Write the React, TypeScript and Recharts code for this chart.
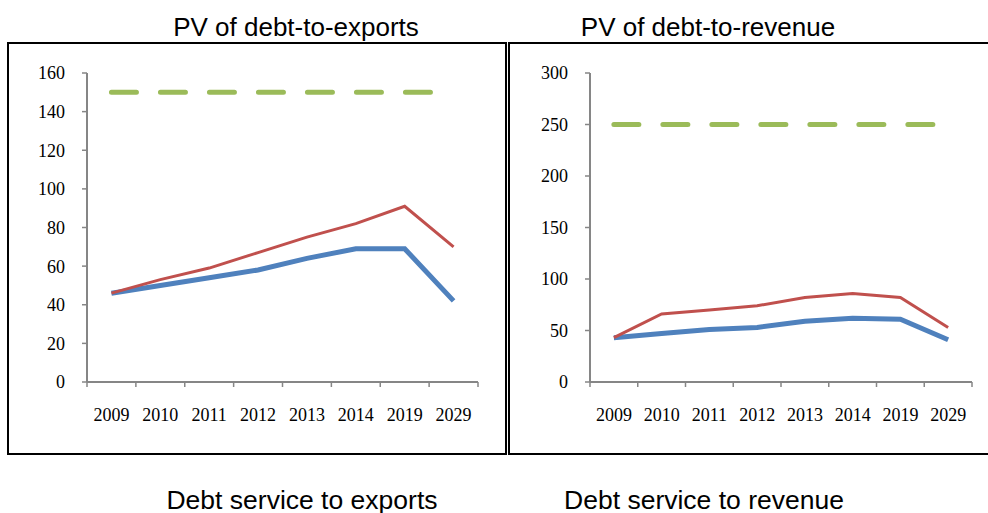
import React from 'react';
import { LineChart, Line, XAxis, YAxis } from 'recharts';

const years = ['2009', '2010', '2011', '2012', '2013', '2014', '2019', '2029'];

// PV of debt-to-exports
const exportsBaseline = [46, 50, 54, 58, 64, 69, 69, 42];
const exportsShock = [46, 53, 59, 67, 75, 82, 91, 70];
const exportsThreshold = [150, 150, 150, 150, 150, 150, 150, 150];
const exportsTicks = [0, 20, 40, 60, 80, 100, 120, 140, 160];

// PV of debt-to-revenue
const revenueBaseline = [43, 47, 51, 53, 59, 62, 61, 41];
const revenueShock = [43, 66, 70, 74, 82, 86, 82, 53];
const revenueThreshold = [250, 250, 250, 250, 250, 250, 250, 250];
const revenueTicks = [0, 50, 100, 150, 200, 250, 300];

const BLUE = '#4F81BD';
const RED = '#C0504D';
const GREEN = '#9BBB59';
const GREY = '#868686';
const SERIF = '"Liberation Serif", "Times New Roman", serif';
const SANS = '"Liberation Sans", Arial, sans-serif';

const buildRows = (base: number[], shock: number[], thr: number[]) =>
  years.map((y, i) => ({ year: y, base: base[i], shock: shock[i], thr: thr[i] }));

// category tick: label at centre, tick mark at the left edge of each band
const makeTick = (band: number) => (props: any) => {
  const { x, y, payload, index } = props;
  return (
    <g>
      <line x1={x - band / 2} x2={x - band / 2} y1={y} y2={y + 5} stroke={GREY} strokeWidth={1.5} />
      {index === years.length - 1 && (
        <line x1={x + band / 2} x2={x + band / 2} y1={y} y2={y + 5} stroke={GREY} strokeWidth={1.5} />
      )}
      <text x={x} y={y + 33} dy="0.35em" textAnchor="middle" fontFamily={SERIF} fontSize={18} fill="#000">
        {payload.value}
      </text>
    </g>
  );
};

interface PanelProps {
  left: number;
  width: number;
  marginLeft: number;
  marginRight: number;
  plotWidth: number;
  data: any[];
  max: number;
  ticks: number[];
}

const Panel: React.FC<PanelProps> = ({ left, width, marginLeft, marginRight, plotWidth, data, max, ticks }) => {
  const band = plotWidth / years.length;
  return (
    <div style={{ position: 'absolute', left, top: 0 }}>
      <LineChart
        width={width}
        height={455}
        data={data}
        margin={{ top: 73, right: marginRight, bottom: 33, left: marginLeft }}
      >
        <XAxis
          dataKey="year"
          height={40}
          padding={{ left: band / 2, right: band / 2 }}
          tickSize={0}
          tickMargin={0}
          tickLine={false}
          axisLine={{ stroke: GREY, strokeWidth: 2 }}
          tick={makeTick(band)}
          interval={0}
        />
        <XAxis xAxisId="top" orientation="top" dataKey="year" height={0} tick={false} tickLine={false} axisLine={{ stroke: '#000', strokeWidth: 2 }} />
        <YAxis
          width={60}
          domain={[0, max]}
          ticks={ticks}
          tickSize={5}
          tickMargin={17}
          axisLine={{ stroke: GREY, strokeWidth: 2 }}
          tickLine={{ stroke: GREY, strokeWidth: 1.5 }}
          tick={{ fontFamily: SERIF, fontSize: 18, fill: '#000' }}
        />
        <YAxis yAxisId="right" orientation="right" width={0} domain={[0, max]} tick={false} tickLine={false} axisLine={{ stroke: '#000', strokeWidth: 2 }} />
        <Line dataKey="base" stroke={BLUE} strokeWidth={5} dot={false} isAnimationActive={false} />
        <Line dataKey="shock" stroke={RED} strokeWidth={3} dot={false} isAnimationActive={false} />
        <Line dataKey="thr" stroke={GREEN} strokeWidth={5} strokeDasharray="25 24" strokeLinecap="round" dot={false} isAnimationActive={false} />
      </LineChart>
    </div>
  );
};

export default function App() {
  const exportsRows = buildRows(exportsBaseline, exportsShock, exportsThreshold);
  const revenueRows = buildRows(revenueBaseline, revenueShock, revenueThreshold);

  return (
    <div style={{ position: 'absolute', left: 0, top: 0, width: 988, height: 513, overflow: 'hidden', background: '#fff' }}>
      <div style={{ position: 'absolute', left: 7, top: 42, width: 500, height: 413, border: '2px solid #000', boxSizing: 'border-box' }} />
      <div style={{ position: 'absolute', left: 508, top: 42, width: 490, height: 413, border: '2px solid #000', boxSizing: 'border-box' }} />

      <Panel left={0} width={505} marginLeft={27} marginRight={27} plotWidth={391} data={exportsRows} max={160} ticks={exportsTicks} />
      <Panel left={505} width={483} marginLeft={25} marginRight={16} plotWidth={382} data={revenueRows} max={300} ticks={revenueTicks} />

      <svg width={988} height={513} style={{ position: 'absolute', left: 0, top: 0, pointerEvents: 'none' }}>
        <text x={296} y={36} textAnchor="middle" fontFamily={SANS} fontSize={26} fill="#000">PV of debt-to-exports</text>
        <text x={708} y={36} textAnchor="middle" fontFamily={SANS} fontSize={26} fill="#000">PV of debt-to-revenue</text>
        <text x={302} y={509} textAnchor="middle" fontFamily={SANS} fontSize={26.5} fill="#000">Debt service to exports</text>
        <text x={704} y={509} textAnchor="middle" fontFamily={SANS} fontSize={26.5} fill="#000">Debt service to revenue</text>
      </svg>
    </div>
  );
}
